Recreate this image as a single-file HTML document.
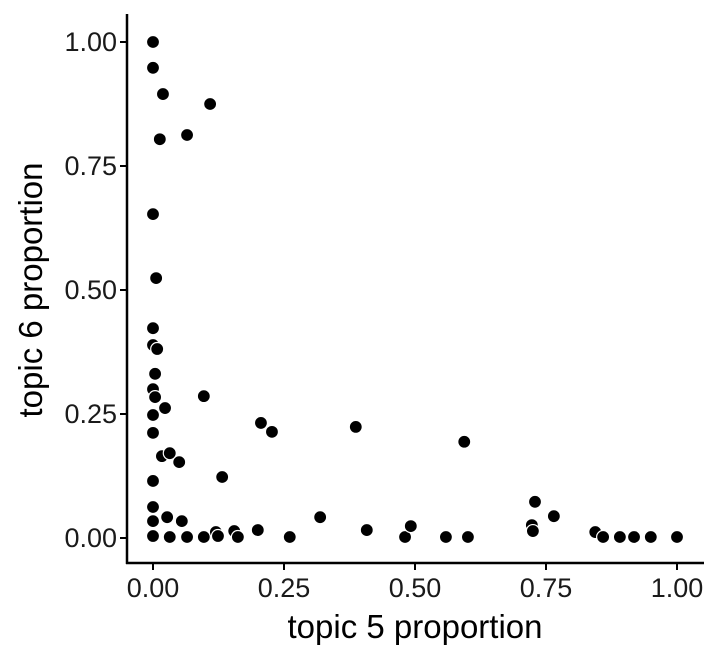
<!DOCTYPE html>
<html><head><meta charset="utf-8"><style>
body{margin:0;background:#fff;}
svg text{font-family:"Liberation Sans",Arial,sans-serif;}
</style></head><body>
<svg id="chart" width="720" height="660" viewBox="0 0 720 660" xmlns="http://www.w3.org/2000/svg">
<g id="axes"></g><g id="points"></g>
</svg>
<script>
const xTicks=[0,0.25,0.5,0.75,1];
const yTicks=[0,0.25,0.5,0.75,1];
const tickLabels=["0.00","0.25","0.50","0.75","1.00"];
const topic5=[0,0,0.019,0.013,0.109,0.065,0,0.006,0,0,0.008,0.004,0,0.004,0,0.023,0,0.097,0.017,0.032,0.050,0.132,0,0,0,0.027,0.055,0,0.032,0.065,0.097,0.120,0.124,0.155,0.162,0.200,0.261,0.319,0.206,0.227,0.387,0.408,0.481,0.492,0.559,0.601,0.594,0.723,0.725,0.729,0.765,0.844,0.859,0.891,0.918,0.950,1.0];
const topic6=[1.0,0.948,0.895,0.804,0.875,0.8125,0.653,0.524,0.423,0.389,0.381,0.331,0.300,0.284,0.248,0.262,0.212,0.286,0.165,0.171,0.153,0.123,0.115,0.0625,0.034,0.042,0.034,0.004,0.002,0.002,0.002,0.012,0.004,0.014,0.002,0.016,0.002,0.042,0.232,0.214,0.224,0.016,0.002,0.024,0.002,0.002,0.194,0.026,0.014,0.073,0.044,0.012,0.002,0.002,0.002,0.002,0.002];
const NS="http://www.w3.org/2000/svg";
const sx=v=>153+v*524, sy=v=>538-v*496;
const axes=document.getElementById('axes'), pts=document.getElementById('points');
function mk(tag,attrs,parent,txt){const e=document.createElementNS(NS,tag);for(const k in attrs)e.setAttribute(k,attrs[k]);if(txt!==undefined)e.textContent=txt;parent.appendChild(e);return e;}
let l=mk('line',{x1:127,y1:14,x2:127,y2:564,stroke:'#000','stroke-width':2.5},axes);


l=mk('line',{x1:126,y1:563,x2:704,y2:563,stroke:'#000','stroke-width':2.5},axes);


xTicks.forEach((v,i)=>{
 const t=mk('line',{x1:sx(v),y1:563,x2:sx(v),y2:570,stroke:'#000','stroke-width':2},axes);
 
 
 const tx=mk('text',{x:sx(v),y:597,'text-anchor':'middle','font-size':27,fill:'#1a1a1a'},axes,tickLabels[i]);
 
 
});
yTicks.forEach((v,i)=>{
 const t=mk('line',{x1:120,y1:sy(v),x2:127,y2:sy(v),stroke:'#000','stroke-width':2},axes);
 
 
 const tx=mk('text',{x:117,y:sy(v)+9,'text-anchor':'end','font-size':27,fill:'#1a1a1a'},axes,tickLabels[i]);
 
 
});
let t=mk('text',{x:415,y:638,'text-anchor':'middle','font-size':33,fill:'#000'},axes,'topic 5 proportion');


t=mk('text',{x:0,y:0,'text-anchor':'middle','font-size':33,fill:'#000',transform:'translate(42,290) rotate(-90)'},axes,'topic 6 proportion');


topic5.forEach((v,i)=>{
 const c=mk('circle',{cx:sx(v),cy:sy(topic6[i]),r:6.5,fill:'#000',stroke:'#fff','stroke-width':1.2},pts);
 
 
});
</script>
</body></html>
